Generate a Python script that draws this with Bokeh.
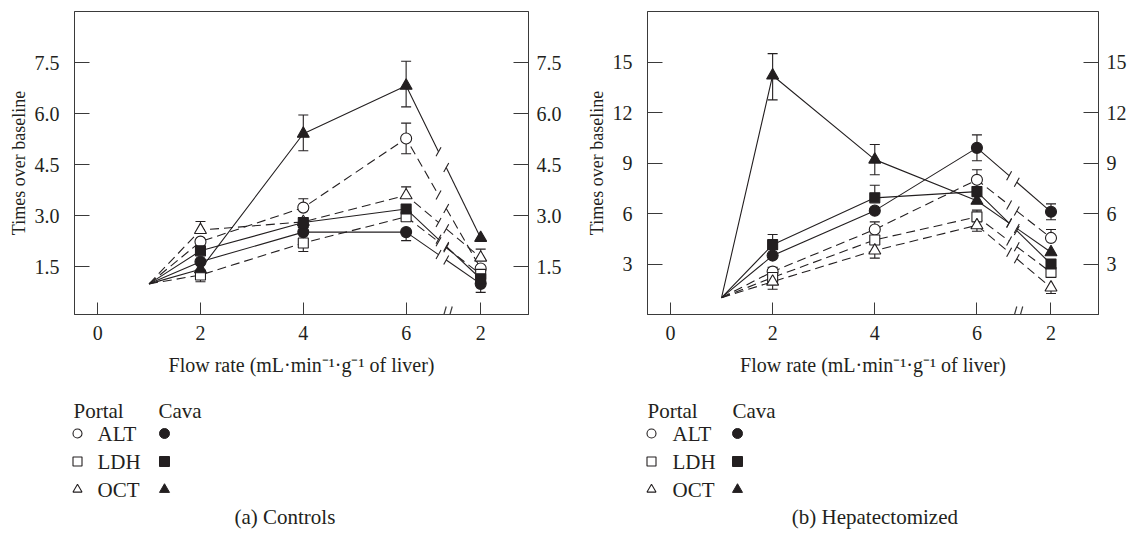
from bokeh.plotting import figure
from bokeh.models import Range1d, LinearAxis, FixedTicker, NumeralTickFormatter, Arrow
from bokeh.layouts import row, column
from bokeh.embed import file_html
from bokeh.resources import INLINE
from bokeh.core.properties import value

# ---------------- data ----------------
x_tick_labels = ["0", "2", "4", "6", "2"]
x_tick_pos = [0, 2, 4, 6, 7.45]      # the last "2" is the return to 2 after the axis break
x_steps = [1, 2, 4, 6, 7.45]         # baseline, 2, 4, 6, back to 2 (after break)

# (a) Controls
ctrl_portal_alt = [1, 2.24, 3.24, 5.27, 1.45]
ctrl_portal_ldh = [1, 1.26, 2.20, 2.97, 1.28]
ctrl_portal_oct = [1, 2.58, 2.82, 3.60, 1.77]
ctrl_cava_alt = [1, 1.65, 2.52, 2.52, 1.00]
ctrl_cava_ldh = [1, 1.97, 2.80, 3.20, 1.15]
ctrl_cava_oct = [1, 1.43, 5.41, 6.82, 2.35]

ctrl_portal_alt_up = [0, 0, 0.26, 0.45, 0]
ctrl_portal_alt_dn = [0, 0, 0, 0.45, 0]
ctrl_portal_ldh_up = [0, 0, 0, 0, 0]
ctrl_portal_ldh_dn = [0, 0.20, 0.25, 0, 0]
ctrl_portal_oct_up = [0, 0.25, 0, 0.25, 0.25]
ctrl_portal_oct_dn = [0, 0, 0, 0, 0]
ctrl_cava_alt_up = [0, 0, 0, 0, 0]
ctrl_cava_alt_dn = [0, 0, 0, 0.25, 0.25]
ctrl_cava_ldh_up = [0, 0, 0, 0, 0]
ctrl_cava_ldh_dn = [0, 0, 0, 0, 0]
ctrl_cava_oct_up = [0, 0, 0.55, 0.72, 0]
ctrl_cava_oct_dn = [0, 0, 0.50, 0.62, 0]

# (b) Hepatectomized
hep_portal_alt = [1, 2.55, 5.05, 8.00, 4.55]
hep_portal_ldh = [1, 2.20, 4.43, 5.80, 2.50]
hep_portal_oct = [1, 1.95, 3.80, 5.30, 1.60]
hep_cava_alt = [1, 3.50, 6.17, 9.90, 6.10]
hep_cava_ldh = [1, 4.15, 6.93, 7.30, 3.00]
hep_cava_oct = [1, 14.20, 9.20, 6.76, 3.70]

hep_portal_alt_up = [0, 0.25, 0.45, 0.60, 0.50]
hep_portal_alt_dn = [0, 0, 0, 0, 0]
hep_portal_ldh_up = [0, 0, 0, 0.40, 0]
hep_portal_ldh_dn = [0, 0, 0, 0, 0]
hep_portal_oct_up = [0, 0, 0, 0, 0]
hep_portal_oct_dn = [0, 0.45, 0.45, 0.35, 0.35]
hep_cava_alt_up = [0, 0, 0, 0.77, 0.47]
hep_cava_alt_dn = [0, 0, 0, 0.77, 0.47]
hep_cava_ldh_up = [0, 0.60, 0.75, 0, 0]
hep_cava_ldh_dn = [0, 0, 0, 0, 0]
hep_cava_oct_up = [0, 1.30, 0.90, 0, 0]
hep_cava_oct_dn = [0, 1.45, 0.90, 0, 0]

ctrl_y_ticks = [1.5, 3.0, 4.5, 6.0, 7.5]
hep_y_ticks = [3, 6, 9, 12, 15]

legend_tests = ["ALT", "LDH", "OCT"]
captions = ["(a)  Controls", "(b)  Hepatectomized"]

# ---------------- style ----------------
FONT = "Liberation Serif"
INK = "#231f20"
FRAME = "#3a3a3a"
FS_TICK = "20px"
FS_YLAB = "18px"
FS_XLAB = "20px"
FS_LEG = "21px"
X_RANGE = (-0.45, 8.38)
FRAME_W, FRAME_H = 454, 303
GAP = (6.63, 6.78)          # where the lines are interrupted before the break
AXIS_BREAK_X = 6.78
MARKER_SIZE = {"circle": 11, "square": 10, "triangle": 12}


def style_axis(ax, tick_in, standoff, lab_fs):
    ax.major_tick_in = tick_in
    ax.major_tick_out = 0
    ax.minor_tick_in = 0
    ax.minor_tick_out = 0
    ax.axis_line_color = FRAME
    ax.major_tick_line_color = FRAME
    ax.major_label_text_font = FONT
    ax.major_label_text_font_size = FS_TICK
    ax.major_label_text_color = INK
    ax.major_label_standoff = standoff
    ax.axis_label_text_font = FONT
    ax.axis_label_text_font_size = lab_fs
    ax.axis_label_text_font_style = "normal"
    ax.axis_label_text_color = INK


def panel(series, y_range, y_ticks, y_fmt, width, bl, br, ylab_standoff):
    p = figure(width=width, height=385, x_range=Range1d(*X_RANGE), y_range=Range1d(*y_range),
               toolbar_location=None, output_backend="svg",
               min_border_left=bl, min_border_right=br, min_border_top=11, min_border_bottom=71)
    p.grid.visible = False
    p.outline_line_color = FRAME
    p.background_fill_color = "white"
    p.border_fill_color = "white"

    ppx = FRAME_W / (X_RANGE[1] - X_RANGE[0])
    ppy = FRAME_H / (y_range[1] - y_range[0])

    p.xaxis.ticker = FixedTicker(ticks=x_tick_pos)
    p.xaxis.major_label_overrides = {float(k): v for k, v in zip(x_tick_pos, x_tick_labels)}
    p.xaxis.axis_label = "Flow rate (mL·min⁻¹·g⁻¹ of liver)"
    p.xaxis.axis_label_standoff = 11
    style_axis(p.xaxis[0], 12, 11, FS_XLAB)

    p.yaxis.ticker = FixedTicker(ticks=y_ticks)
    p.yaxis.formatter = NumeralTickFormatter(format=y_fmt)
    p.yaxis.axis_label = "Times over baseline"
    p.yaxis.axis_label_standoff = ylab_standoff
    style_axis(p.yaxis[0], 15, 15, FS_YLAB)

    rax = LinearAxis(ticker=FixedTicker(ticks=y_ticks), formatter=NumeralTickFormatter(format=y_fmt))
    style_axis(rax, 15, 8, FS_YLAB)
    p.add_layout(rax, "right")

    # error bars and lines
    for ys, up, dn, marker, filled in series:
        ex, lo, hi, cx, cy = [], [], [], [], []
        for x, y, u, d in zip(x_steps, ys, up, dn):
            if u > 0 or d > 0:
                ex.append(x); lo.append(y - d); hi.append(y + u)
            if u > 0:
                cx.append(x); cy.append(y + u)
            if d > 0:
                cx.append(x); cy.append(y - d)
        if ex:
            p.segment(x0=ex, y0=lo, x1=ex, y1=hi, line_color=INK, line_width=1.1)
            p.scatter(x=cx, y=cy, marker="dash", size=10, line_color=INK, line_width=1.1)

        dash = "solid" if filled else "9 5"
        x6, xb = x_steps[3], x_steps[4]
        y6, yb = ys[3], ys[4]
        yg1 = y6 + (yb - y6) * (GAP[0] - x6) / (xb - x6)
        yg2 = y6 + (yb - y6) * (GAP[1] - x6) / (xb - x6)
        p.line(x=x_steps[:4] + [GAP[0]], y=ys[:4] + [yg1], line_color=INK, line_width=1.1, line_dash=dash)
        p.line(x=[GAP[1], xb], y=[yg2, yb], line_color=INK, line_width=1.1, line_dash=dash)
        cdx, cdy = 2.5 / ppx, 4.5 / ppy
        p.segment(x0=[GAP[0] - cdx, GAP[1] - cdx], y0=[yg1 - cdy, yg2 - cdy],
                  x1=[GAP[0] + cdx, GAP[1] + cdx], y1=[yg1 + cdy, yg2 + cdy],
                  line_color=INK, line_width=1.1)

    # markers: open (portal) first, filled (cava) on top
    for want_filled in (False, True):
        for ys, up, dn, marker, filled in series:
            if filled != want_filled:
                continue
            p.scatter(x=x_steps[1:], y=ys[1:], marker=marker, size=MARKER_SIZE[marker],
                      fill_color=INK if filled else "white", line_color=INK, line_width=1.1)

    # axis break "//"
    y0 = y_range[0]
    for off in (-3, 3):
        xc = AXIS_BREAK_X + off / ppx
        p.add_layout(Arrow(start=None, end=None,
                           x_start=xc - 3 / ppx, y_start=y0 - 13 / ppy,
                           x_end=xc + 3 / ppx, y_end=y0 + 8 / ppy,
                           line_color=FRAME, line_width=1.2))
    return p


def legend_fig(width, x_portal, x_cava, x_sym, x_txt, x_fill, x_caption, caption):
    lg = figure(width=width, height=145, x_range=Range1d(0, width), y_range=Range1d(145, 0),
                toolbar_location=None, output_backend="svg", min_border=0,
                x_axis_location=None, y_axis_location=None)
    lg.grid.visible = False
    lg.outline_line_color = None
    rows_y = [48, 76, 104]
    markers = ["circle", "square", "triangle"]
    lg.text(x=[x_portal, x_cava], y=[25, 25], text=["Portal", "Cava"],
            text_font=value(FONT), text_font_size=value(FS_LEG), text_color=INK,
            text_baseline="middle", text_align="left")
    lg.text(x=[x_txt] * 3, y=rows_y, text=legend_tests,
            text_font=value(FONT), text_font_size=value(FS_LEG), text_color=INK,
            text_baseline="middle", text_align="left")
    for m, yy in zip(markers, rows_y):
        lg.scatter(x=[x_sym], y=[yy], marker=m, size=9, fill_color="white", line_color=INK, line_width=1.1)
        lg.scatter(x=[x_fill], y=[yy], marker=m, size=10, fill_color=INK, line_color=INK, line_width=1)
    lg.text(x=[x_caption], y=[131], text=[caption],
            text_font=value(FONT), text_font_size=value(FS_LEG), text_color=INK,
            text_baseline="middle", text_align="center")
    return lg


ctrl_series = [
    (ctrl_portal_alt, ctrl_portal_alt_up, ctrl_portal_alt_dn, "circle", False),
    (ctrl_portal_ldh, ctrl_portal_ldh_up, ctrl_portal_ldh_dn, "square", False),
    (ctrl_portal_oct, ctrl_portal_oct_up, ctrl_portal_oct_dn, "triangle", False),
    (ctrl_cava_alt, ctrl_cava_alt_up, ctrl_cava_alt_dn, "circle", True),
    (ctrl_cava_ldh, ctrl_cava_ldh_up, ctrl_cava_ldh_dn, "square", True),
    (ctrl_cava_oct, ctrl_cava_oct_up, ctrl_cava_oct_dn, "triangle", True),
]
hep_series = [
    (hep_portal_alt, hep_portal_alt_up, hep_portal_alt_dn, "circle", False),
    (hep_portal_ldh, hep_portal_ldh_up, hep_portal_ldh_dn, "square", False),
    (hep_portal_oct, hep_portal_oct_up, hep_portal_oct_dn, "triangle", False),
    (hep_cava_alt, hep_cava_alt_up, hep_cava_alt_dn, "circle", True),
    (hep_cava_ldh, hep_cava_ldh_up, hep_cava_ldh_dn, "square", True),
    (hep_cava_oct, hep_cava_oct_up, hep_cava_oct_dn, "triangle", True),
]

# page coordinates: left panel 0..582, right panel 582..1129
pa = panel(ctrl_series, (0.1, 9.0), ctrl_y_ticks, "0.0", 582, 74, 54, 3)
pb = panel(hep_series, (0.0, 18.0), hep_y_ticks, "0", 547, 65, 28, 3)
la = legend_fig(582, 73, 158, 77, 97, 164, 287, captions[0])
lb = legend_fig(547, 65, 150, 69, 90, 155, 295, captions[1])

layout = column(row(pa, pb), row(la, lb))
open("out.html", "w").write(file_html(layout, INLINE))
